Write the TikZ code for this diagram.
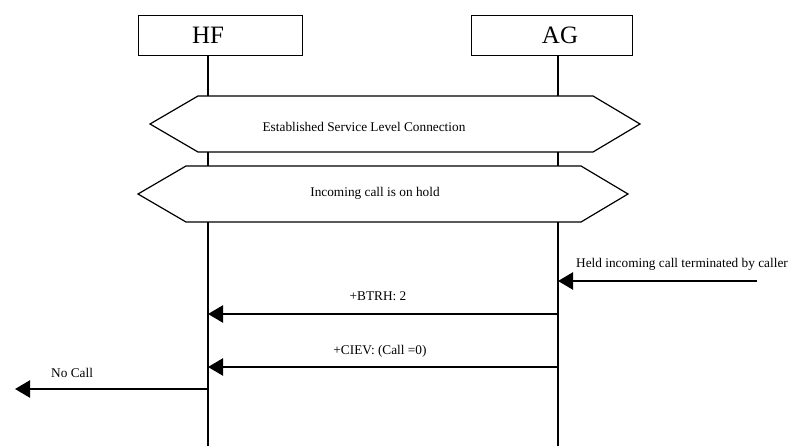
\documentclass[tikz,border=0pt]{standalone}
\usepackage{fontspec}
\setmainfont{Liberation Serif}
\usetikzlibrary{arrows.meta,positioning}
\tikzset{
	every node/.style={font=\fontsize{13.3}{15}\selectfont, inner sep=0pt},
	entity node/.style={rectangle,draw,line width=0.9pt,minimum height=40pt},
	entity name/.style={font=\fontsize{25}{28}\selectfont}
}

\begin{document}
\begin{tikzpicture}[x=1pt, y=-1pt, >={Triangle[length=15pt,width=17pt]},
	lifeline/.style={line width=1.8pt},
	msg/.style={->, line width=2.4pt},
	phase/.style={draw, fill=white, line width=1.2pt, line join=miter}]
	\useasboundingbox (0,0) rectangle (803,446);

	\node[entity node, minimum width=164pt] (hf) at (220,35) {};
	\node[entity node, minimum width=161pt] (ag) at (551.5,35) {};
	\node[entity name] (hfname) at (208,35) {HF};
	\node[entity name] (agname) at (560,35) {AG};

	\coordinate (hfend) at (208,446);
	\coordinate (agend) at (558,446);

	% Lifelines
	\draw[lifeline] (hfend |- hf.south) -- (hfend);
	\draw[lifeline] (agend |- ag.south) -- (agend);

	% Phases
	\draw[phase] (150,124) -- (198,96) -- (593,96) -- (640,124) -- (593,152) -- (198,152) -- cycle;
	\node[anchor=base] (slc) at (364,132) {Established Service Level Connection};
	\draw[phase] (138,194) -- (186,166) -- (581,166) -- (628,194) -- (581,222) -- (186,222) -- cycle;
	\node[anchor=base] (hold) at (375,197) {Incoming call is on hold};

	% Message points
	\coordinate (held) at (757,281);
	\coordinate (ag1) at (558,281);
	\coordinate (ag2) at (558,314);
	\coordinate (hf2) at (208,314);
	\coordinate (ag3) at (558,367);
	\coordinate (hf3) at (208,367);
	\coordinate (hf4) at (208,389);
	\coordinate (nocall) at (15,389);

	% Messages
	\draw[msg] (held) -- (ag1);
	\node[anchor=base west] (heldtext) at (576,268) {Held incoming call terminated by caller};

	\draw[msg] (ag2) -- (hf2);
	\node[anchor=base] (btrh) at (378,301) {+BTRH: 2};

	\draw[msg] (ag3) -- (hf3);
	\node[anchor=base] (ciev) at (380,354) {+CIEV: (Call =0)};

	\draw[msg] (hf4) -- (nocall);
	\node[anchor=base west] (nocalltext) at (51,377) {No Call};
\end{tikzpicture}
\end{document}
